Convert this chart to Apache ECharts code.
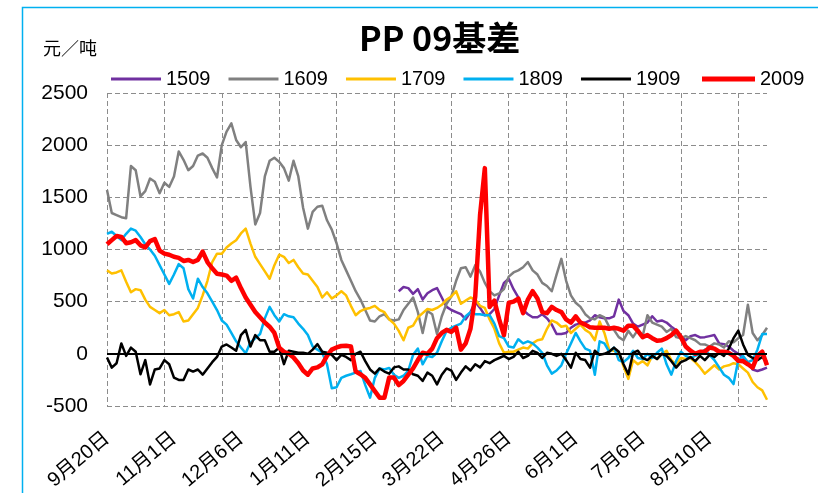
<!DOCTYPE html>
<html>
<head>
<meta charset="utf-8">
<script src="https://cdn.jsdelivr.net/npm/echarts@6/dist/echarts.min.js"></script>
<style>
  html, body { margin: 0; padding: 0; background: #fff; }
  #chart { width: 818px; height: 493px; }
</style>
</head>
<body>
<div id="chart"></div>
<script>
// x axis: one category per point, a date label every 14 points
const xLabels = ['9月20日', '11月1日', '12月6日', '1月11日', '2月15日', '3月22日', '4月26日', '6月1日', '7月6日', '8月10日']
const yTicks = [-500, 0, 500, 1000, 1500, 2000, 2500]
const seriesNames = ['1509', '1609', '1709', '1809', '1909', '2009']

// 1509 starts later in the year
const s1509Start = 61
const s1509 = [600, 640, 630, 575, 620, 520, 580, 610, 630,
  540, 450, 420, 400, 380, 330, 400, 500, 440, 370,
  380, 430, 560, 680, 720, 620, 540, 420, 380, 350,
  350, 380, 340, 280, 190, 190, 200, 250, 280, 290,
  300, 320, 370, 350, 340, 340, 360, 520, 410, 370,
  290, 260, 280, 300, 360, 310, 320, 300, 260, 225,
  170, 130, 170, 180, 157, 160, 170, 180, 100, 93,
  70, 30, 0, -35, -80, -150, -164, -150, -132]

const s1609 = [1571, 1350, 1330, 1310, 1300, 1800, 1760, 1510, 1560, 1680,
  1650, 1540, 1640, 1600, 1700, 1940, 1860, 1760, 1800, 1900,
  1920, 1880, 1780, 1690, 2000, 2130, 2210, 2050, 1980, 2030,
  1600, 1240, 1350, 1700, 1850, 1880, 1840, 1780, 1660, 1850,
  1700, 1400, 1200, 1360, 1410, 1420, 1280, 1190, 1060, 900,
  800, 700, 600, 520, 420, 320, 310, 360, 380, 330,
  320, 330, 420, 480, 540, 400, 200, 410, 380, 190,
  360, 480, 550, 700, 820, 830, 740, 850, 790, 680,
  600, 560, 580, 620, 740, 780, 800, 830, 880, 800,
  760, 680, 650, 600, 760, 910, 700, 560, 490, 450,
  380, 340, 330, 370, 350, 260, 230, 160, 130, 220,
  160, 230, 170, 370, 300, 280, 260, 210, 240, 160,
  150, 170, 150, 130, 93, 90, 70, 100, 90, 60,
  120, 110, 150, 180, 470, 200, 130, 180, 250]

const s1709 = [800, 770, 780, 800, 690, 590, 620, 610, 520, 450,
  420, 390, 420, 370, 380, 400, 310, 320, 380, 440,
  560, 700, 880, 960, 960, 1020, 1057, 1089, 1154, 1200,
  1057, 930, 860, 790, 720, 850, 950, 930, 870, 900,
  830, 770, 760, 700, 640, 540, 590, 530, 560, 600,
  560, 460, 370, 410, 430, 440, 460, 420, 400, 330,
  290, 220, 130, 250, 270, 350, 390, 430, 420, 440,
  470, 520, 550, 600, 480, 510, 540, 520, 460, 440,
  330, 240, 100, 10, 20, 20, 40, 60, 50, 100,
  130, 140, 240, 320, 300, 260, 270, 200, 240, 280,
  230, 200, 130, 310, 200, 40, 30, 10, -120, -240,
  -60, -100, -70, -110, -20, -50, 0, 30, -60, -99,
  -40, -50, -40, -80, -130, -190, -150, -110, -150, -120,
  -110, -90, -100, -140, -180, -270, -320, -350, -440]

const s1809 = [1150, 1170, 1130, 1090, 1150, 1200, 1180, 1120, 1050, 1000,
  940, 850, 760, 670, 760, 860, 820, 620, 530, 720,
  640, 580, 500, 420, 320, 280, 200, 120, 60, 5,
  110, 150, 190, 340, 450, 370, 310, 380, 360, 350,
  290, 240, 180, 70, 40, 10, -100, -330, -320, -230,
  -210, -196, -180, -164, -300, -420, -230, -140, -150, -135,
  -200, -230, -210, -160, -10, 50, -100, -20, -30, 10,
  120, 220, 250, 270, 290, 360, 400, 380, 380, 370,
  370, 290, 170, 150, 70, 60, 140, 100, 120, 100,
  60, 10, -110, -190, -160, -110, 0, 100, 200, 120,
  50, 30, -200, 120, 100, 20, 60, -60, -80, -40,
  30, -40, -50, 0, -40, 10, 50, -100, -200, -70,
  20, -20, -40, -20, 0, 40, -10, -60, -130, -200,
  -230, -290, -60, -20, -80, -60, 40, 190, 190]

const s1909 = [-35, -132, -90, 100, -20, 60, 20, -196, -60, -293,
  -150, -140, -60, -100, -228, -250, -250, -150, -170, -150,
  -200, -140, -80, -30, 70, 90, 60, 30, 180, 230,
  70, 180, 130, 130, 20, 20, 60, -99, 30, 20,
  10, 10, 0, 40, 93, 20, 10, -10, -60, -10,
  -30, -60, 0, 20, -70, -150, -190, -140, -170, -190,
  -130, -120, -150, -150, -196, -210, -260, -180, -210, -293,
  -200, -140, -160, -250, -180, -120, -160, -100, -130, -70,
  -90, -60, -40, -20, -50, -30, 20, -40, -20, 29,
  10, -40, 10, 0, -20, 0, -60, -132, 10, -50,
  -60, -132, 30, -10, 0, 20, 60, 20, -100, -196,
  10, 30, -40, -60, -20, -50, 0, -20, -70, -132,
  -80, -60, -30, -70, -20, -60, -10, -30, 10, -20,
  50, 150, 222, 90, -10, -40, -60, -30, -80]

const s2009 = [1050, 1090, 1130, 1120, 1060, 1070, 1090, 1040, 1020, 1080,
  1100, 990, 960, 950, 930, 920, 890, 900, 880, 900,
  980, 880, 820, 768, 760, 750, 700, 730, 630, 540,
  470, 400, 350, 300, 260, 200, 60, 20, 0, -35,
  -90, -160, -200, -140, -130, -100, -20, 40, 61, 75,
  77, 70, -170, -196, -230, -293, -357, -420, -421, -228,
  -228, -300, -260, -200, -140, -60, 10, 0, 50, 150,
  200, 230, 210, 250, 40, 100, 240, 550, 1330, 1780,
  450, 510, 330, 180, 490, 500, 530, 390, 520, 600,
  530, 400, 390, 450, 420, 400, 330, 300, 360, 300,
  280, 254, 250, 250, 250, 240, 250, 240, 222, 270,
  270, 220, 160, 180, 150, 125, 130, 150, 180, 222,
  160, 70, 30, 0, 20, 20, 61, 50, 20, 20,
  10, -20, -67, -70, -100, -132, -20, 20, -110]

const categories = s2009.map((v, i) => String(i))
const fullData1509 = categories.map((c, i) => i < s1509Start ? null : s1509[i - s1509Start])

const colors = ['#7030A0', '#808080', '#FFC000', '#00B0F0', '#000000', '#FF0000']
const values = [fullData1509, s1609, s1709, s1809, s1909, s2009]
const fontDigits = '"Liberation Sans", "Noto Sans CJK SC", sans-serif'

let myChart = echarts.init(document.getElementById('chart'))
myChart.setOption({
  animation: false,
  title: {
    text: 'PP 09基差',
    left: 354,
    top: 16,
    textStyle: {
      fontFamily: '"Noto Sans CJK SC", sans-serif',
      fontSize: 34,
      fontWeight: 'bold',
      color: '#000'
    }
  },
  legend: [{
    data: seriesNames.slice(0, 5),
    left: 111,
    top: 69,
    padding: 0,
    icon: 'rect',
    itemWidth: 50,
    itemHeight: 3,
    itemGap: 18,
    textStyle: { fontSize: 20, color: '#000', fontFamily: fontDigits }
  }, {
    data: ['2009'],
    left: 702,
    top: 69,
    padding: 0,
    icon: 'rect',
    itemWidth: 53,
    itemHeight: 5,
    textStyle: { fontSize: 20, color: '#000', fontFamily: fontDigits }
  }],
  graphic: [{
    type: 'rect',
    left: 20,
    top: 5,
    shape: { width: 900, height: 600 },
    style: { fill: 'none', stroke: '#00B0F0', lineWidth: 1.5 },
    silent: true
  }],
  grid: {
    left: 107,
    top: 93,
    right: 51,
    bottom: 87
  },
  xAxis: {
    type: 'category',
    data: categories,
    boundaryGap: false,
    axisLine: { show: false },
    axisTick: { show: false },
    axisLabel: {
      interval: 13,
      rotate: 40,
      margin: 30,
      fontSize: 20,
      color: '#000',
      fontFamily: fontDigits,
      formatter: function (value, index) {
        return xLabels[index / 14] || ''
      }
    },
    splitLine: {
      show: true,
      interval: 11,
      lineStyle: { color: '#8c8c8c', type: [5, 3], width: 1 }
    }
  },
  yAxis: {
    type: 'value',
    min: yTicks[0],
    max: yTicks[yTicks.length - 1],
    interval: 500,
    name: '元／吨',
    nameLocation: 'end',
    nameGap: 36,
    nameTextStyle: {
      fontSize: 18,
      color: '#000',
      align: 'right',
      padding: [0, 10, 0, 0],
      fontFamily: '"Noto Sans CJK SC", sans-serif'
    },
    axisLine: { show: false },
    axisTick: { show: false },
    axisLabel: {
      fontSize: 21,
      color: '#000',
      margin: 19,
      fontFamily: fontDigits,
      formatter: function (v) { return String(v) }
    },
    splitLine: {
      lineStyle: { color: '#8c8c8c', type: [5, 3], width: 1 }
    }
  },
  series: seriesNames.map((name, k) => {
    let s = {
      name: name,
      type: 'line',
      data: values[k],
      symbol: 'none',
      connectNulls: false,
      lineStyle: {
        color: colors[k],
        width: name === '2009' ? 4.5 : 2.5,
        join: 'round'
      },
      itemStyle: { color: colors[k] }
    }
    if (name === '1509') {
      s.markLine = {
        silent: true,
        symbol: ['none', 'none'],
        label: { show: false },
        lineStyle: { color: '#000', type: 'solid', width: 2 },
        data: [{ yAxis: 0 }]
      }
    }
    return s
  })
})
</script>
</body>
</html>
